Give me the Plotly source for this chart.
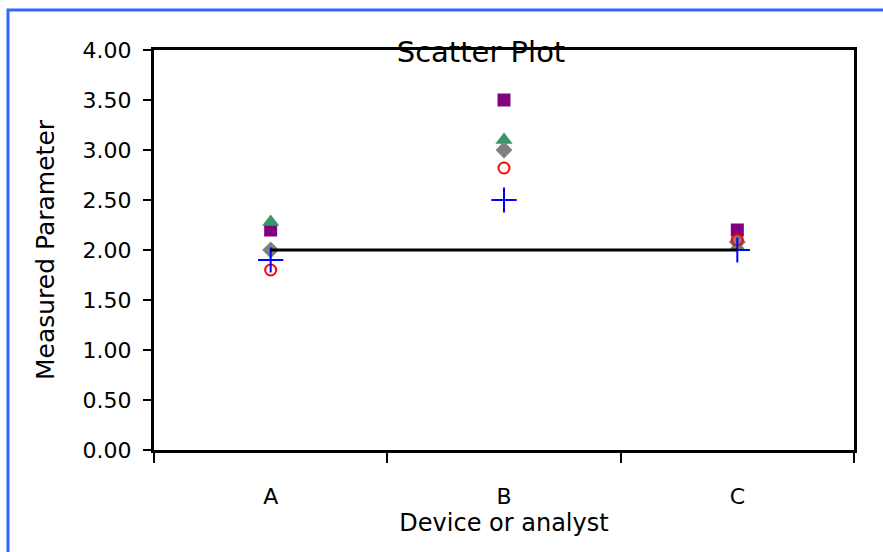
import plotly.graph_objects as go

categories = ["A", "B", "C"]
series_square = [2.2, 3.5, 2.2]
series_triangle = [2.28, 3.1, 2.03]
series_diamond = [2.0, 3.0, 2.08]
series_circle = [1.8, 2.82, 2.1]
series_plus = [1.9, 2.5, 2.0]
reference_line = [2.0, 2.0, 2.0]
y_ticks = [0, 0.5, 1.0, 1.5, 2.0, 2.5, 3.0, 3.5, 4.0]

FONT = "DejaVu Sans"

fig = go.Figure()
fig.add_trace(go.Scatter(x=categories, y=series_square, mode="markers",
                         marker=dict(symbol="square", size=13, color="#800080"), showlegend=False))
fig.add_trace(go.Scatter(x=categories, y=series_triangle, mode="markers",
                         marker=dict(symbol="triangle-up", size=15, color="#339966"), showlegend=False))
fig.add_trace(go.Scatter(x=categories, y=series_diamond, mode="markers",
                         marker=dict(symbol="diamond", size=13, color="#808080"), showlegend=False))
fig.add_trace(go.Scatter(x=categories, y=series_circle, mode="markers",
                         marker=dict(symbol="circle-open", size=11, color="#ff0000", line=dict(width=2)), showlegend=False))
fig.add_trace(go.Scatter(x=categories, y=series_plus, mode="markers",
                         marker=dict(symbol="cross-thin", size=18, color="#0000ff", line=dict(width=2, color="#0000ff")), showlegend=False))
fig.add_trace(go.Scatter(x=categories, y=reference_line, mode="lines",
                         line=dict(color="black", width=3), showlegend=False))

fig.update_layout(
    width=883, height=552,
    margin=dict(l=154, r=29, t=50, b=102),
    paper_bgcolor="white", plot_bgcolor="white",
    font=dict(family=FONT, size=22, color="black"),
    title=dict(text="Scatter Plot", x=481 / 883, xanchor="center",
               y=1 - 52 / 552, yanchor="middle", font=dict(size=29, family=FONT)),
    xaxis=dict(type="category", range=[-0.5, 2.5], tickson="boundaries",
               ticks="outside", ticklen=10, tickwidth=2, tickcolor="black",
               showline=True, linecolor="black", linewidth=3, mirror=True,
               showgrid=False, zeroline=False, ticklabelstandoff=25,
               tickfont=dict(size=22),
               title=dict(text="Device or analyst", standoff=0, font=dict(size=24))),
    yaxis=dict(range=[0, 4], tickvals=y_ticks, tickformat=".2f",
               ticks="outside", ticklen=8, tickwidth=2, tickcolor="black",
               showline=True, linecolor="black", linewidth=3, mirror=True,
               showgrid=False, zeroline=False, ticklabelstandoff=7,
               tickfont=dict(size=22),
               title=dict(text="Measured Parameter", standoff=21, font=dict(size=25))),
    shapes=[dict(type="rect", xref="paper", yref="paper",
                 x0=(8 - 154) / 700, x1=(900 - 154) / 700,
                 y0=(450 - 600) / 400, y1=(450 - 10) / 400,
                 line=dict(color="#3366ff", width=3), layer="below")],
)

fig.write_html("out.html", config={"displayModeBar": False},
               post_script="document.body.style.margin='0';")
